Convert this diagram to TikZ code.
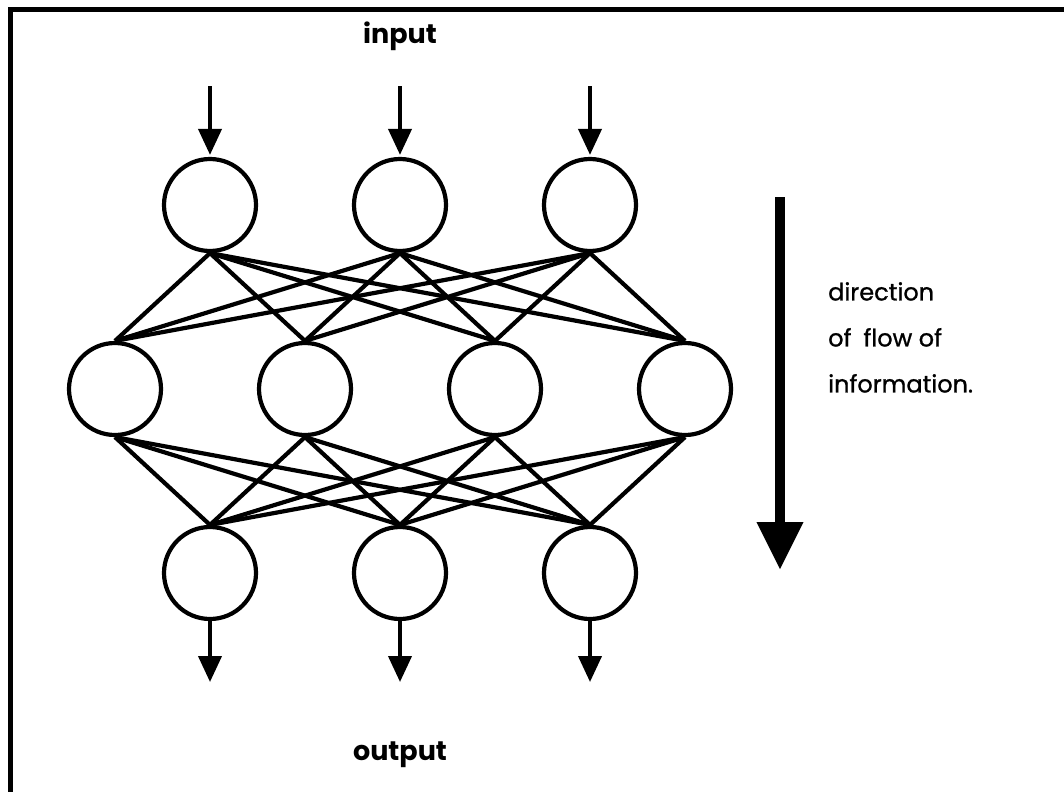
\documentclass[tikz,border=0pt]{standalone}
\usepackage{fontspec}
\setmainfont{Poppins}
\usepackage{tikz}
\usetikzlibrary{arrows.meta}

\begin{document}
\begin{tikzpicture}[x=1pt,y=-1pt,
    neuron/.style={circle,draw,line width=4.2pt,minimum size=92pt,inner sep=0pt},
    wire/.style={line width=4.2pt},
    flow/.style={line width=4pt,-{Triangle[width=23pt,length=26pt]}},
    caption/.style={font=\fontsize{27}{30}\selectfont\bfseries}]
    \useasboundingbox (0,0) rectangle (1064,792);
    \draw[line width=5pt] (1064,10) -- (10,10) -- (10,792);
    \foreach \i/\x in {1/210,2/400,3/590} {
        \node[neuron] (in\i) at (\x,205) {};
        \node[neuron] (out\i) at (\x,573) {};
        \coordinate (src\i) at (\x,86);
        \coordinate (dst\i) at (\x,682);
    }
    \foreach \j/\x in {1/115,2/305,3/495,4/685}
        \node[neuron] (hid\j) at (\x,389) {};
    \foreach \i in {1,2,3} {
        \draw[flow,shorten >=2pt] (src\i) -- (in\i.north);
        \draw[flow] (out\i.south) -- (dst\i);
        \foreach \j in {1,...,4} {
            \draw[wire] (in\i.south) -- (hid\j.north);
            \draw[wire] (hid\j.south) -- (out\i.north);
        }
    }
    \node[caption] (input) at (400,36) {input};
    \node[caption] (output) at (400,755) {output};
    \coordinate (flowtop) at (780,197);
    \coordinate (flowend) at (780,570);
    \draw[line width=10pt,-{Triangle[width=44pt,length=48pt]}] (flowtop) -- (flowend);
    \node[anchor=north west,align=left,inner sep=0pt,
          font=\addfontfeatures{FakeBold=1}\fontsize{24}{46}\selectfont] (note) at (828,282)
        {direction\\of\enspace flow of\\information.};
\end{tikzpicture}
\end{document}
